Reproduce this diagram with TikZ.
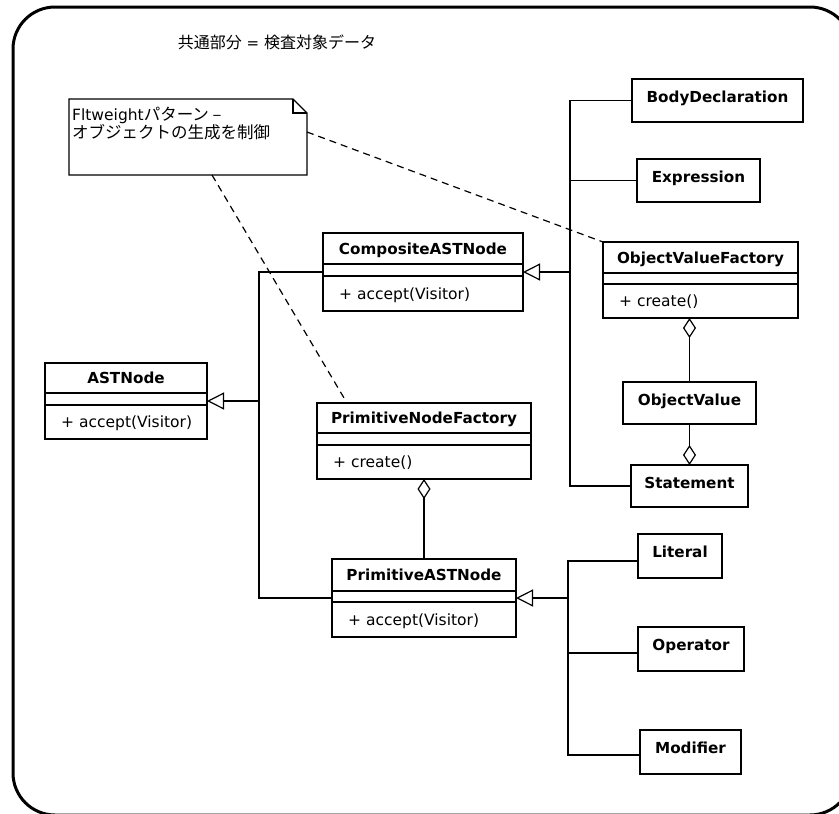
\documentclass[tikz,border=0pt]{standalone}
\usepackage{fontspec}
\setmainfont{DejaVu Sans}
\newfontfamily\cjk{Noto Sans CJK JP}
\usetikzlibrary{arrows.meta,calc}

\newcommand\clsbox[9]{%
  \node[box, minimum width={#4-#2}, minimum height={#5-#3}] (#1) at (#2,#3) {};
  \draw[sep] (#2,#6) -- (#4,#6);
  \draw[sep] (#2,#7) -- (#4,#7);
  \node[title] at ({(#2+#4)/2},{(#3+#6)/2}) {#8};
  \node[meth] at ({#2+16},{(#7+#5)/2}) {#9};
}
\newcommand\simplebox[6]{%
  \node[box, minimum width={#4-#2}, minimum height={#5-#3}] (#1) at (#2,#3) {};
  \node[title] at ({(#2+#4)/2},{#3+17.5}) {#6};
}

\begin{document}
\begin{tikzpicture}[x=1pt,y=-1pt,
  box/.style={draw, line width=2.6pt, rectangle, outer sep=0pt, inner sep=0pt, anchor=north west},
  sep/.style={line width=1.3pt},
  title/.style={font=\fontsize{15.2}{18}\selectfont\bfseries, inner sep=0pt, text height=11pt, text depth=0pt},
  meth/.style={font=\fontsize{15.5}{18}\selectfont, inner sep=0pt, anchor=west, text height=11pt, text depth=0pt},
  conn/.style={line width=1.2pt},
  gen/.style={conn, -{Triangle[open, length=17pt, width=17pt]}},
  agg/.style={conn, -{Diamond[open, length=20pt, width=13pt]}},
  notelink/.style={line width=1.2pt, dash pattern=on 7pt off 5pt},
]
\useasboundingbox (0,0) rectangle (839,814);
\fill[white] (0,0) rectangle (839,814);
\clip (0,0) rectangle (839,814);

% frame
\draw[line width=3pt, rounded corners=42pt] (13,7) rectangle (852,815);

% title
\node[font=\fontsize{15}{20}\selectfont, inner sep=0pt] (heading) at (277,42)
  {{\cjk\fontsize{16}{20}\selectfont 共通部分} = {\cjk\fontsize{16}{20}\selectfont 検査対象データ}};

% note
\node[inner sep=0pt, outer sep=0pt, minimum width=238, minimum height=76, anchor=north west] (note) at (69,99) {};
\draw[line width=1.3pt] (69,99) -- (293,99) -- (307,113) -- (307,175) -- (69,175) -- cycle;
\draw[line width=1.3pt] (293,99) -- (293,113) -- (307,113);
\node[anchor=north west, align=left, inner sep=0pt, font=\fontsize{15.5}{18}\selectfont] (notetext) at (72,107)
  {Fltweight{\cjk\fontsize{16.5}{18}\selectfont パターン –}\\{\cjk\fontsize{16.5}{18}\selectfont オブジェクトの生成を制御}};

% classes
\clsbox{ast}{45}{363}{207}{439}{393}{405}{ASTNode}{+ accept(Visitor)}
\clsbox{comp}{323}{233}{523}{311}{264}{276}{CompositeASTNode}{+ accept(Visitor)}
\clsbox{pnf}{317}{403}{531}{479}{433}{445}{PrimitiveNodeFactory}{+ create()}
\clsbox{past}{332}{559}{516}{637}{591}{602}{PrimitiveASTNode}{+ accept(Visitor)}
\clsbox{ovf}{603}{242}{798}{318}{273}{284}{ObjectValueFactory}{+ create()}

\simplebox{body}{632}{79}{803}{122}{BodyDeclaration}
\simplebox{expr}{637}{159}{760}{202}{Expression}
\simplebox{ov}{623}{382}{756}{424}{ObjectValue}
\simplebox{stmt}{631}{465}{748}{507}{Statement}
\simplebox{lit}{638}{534}{722}{578}{Literal}
\simplebox{op}{638}{627}{744}{671}{Operator}
\simplebox{mod}{640}{730}{741}{774}{Modifier}

% junction points
\coordinate (jA) at (259,401);
\coordinate (jC) at (570,272);
\coordinate (jP) at (568,598);

% generalizations
\draw[gen] (jA) -- (ast.east);
\draw[conn] (comp.west) -| (jA) |- (past.west);

\draw[gen] (jC) -- (comp.east);
\draw[conn] (body.west) -| (jC) |- (stmt.west);
\draw[conn] (expr.west) -- (expr.west -| jC);

\draw[conn, line width=2pt] (jP) -- ([xshift=16pt]past.east);
\draw[gen] (jP) -- (past.east);
\draw[conn] ([yshift=-5pt]lit.west) -| (jP) |- ([yshift=-3pt]mod.west);
\draw[conn] ([yshift=-4pt]op.west) -- ([yshift=-4pt]op.west -| jP);

% aggregations
\draw[agg] (past.north) -- (pnf.south);
\draw[agg] (ov.north) -- (ov.north |- ovf.south);
\draw[agg] (ov.south) -- (stmt.north);

% note links
\draw[notelink] ([yshift=5pt]note.east) -- (ovf.north west);
\draw[notelink] ([xshift=24pt]note.south) -- ([xshift=-77pt]pnf.north);
\end{tikzpicture}
\end{document}
